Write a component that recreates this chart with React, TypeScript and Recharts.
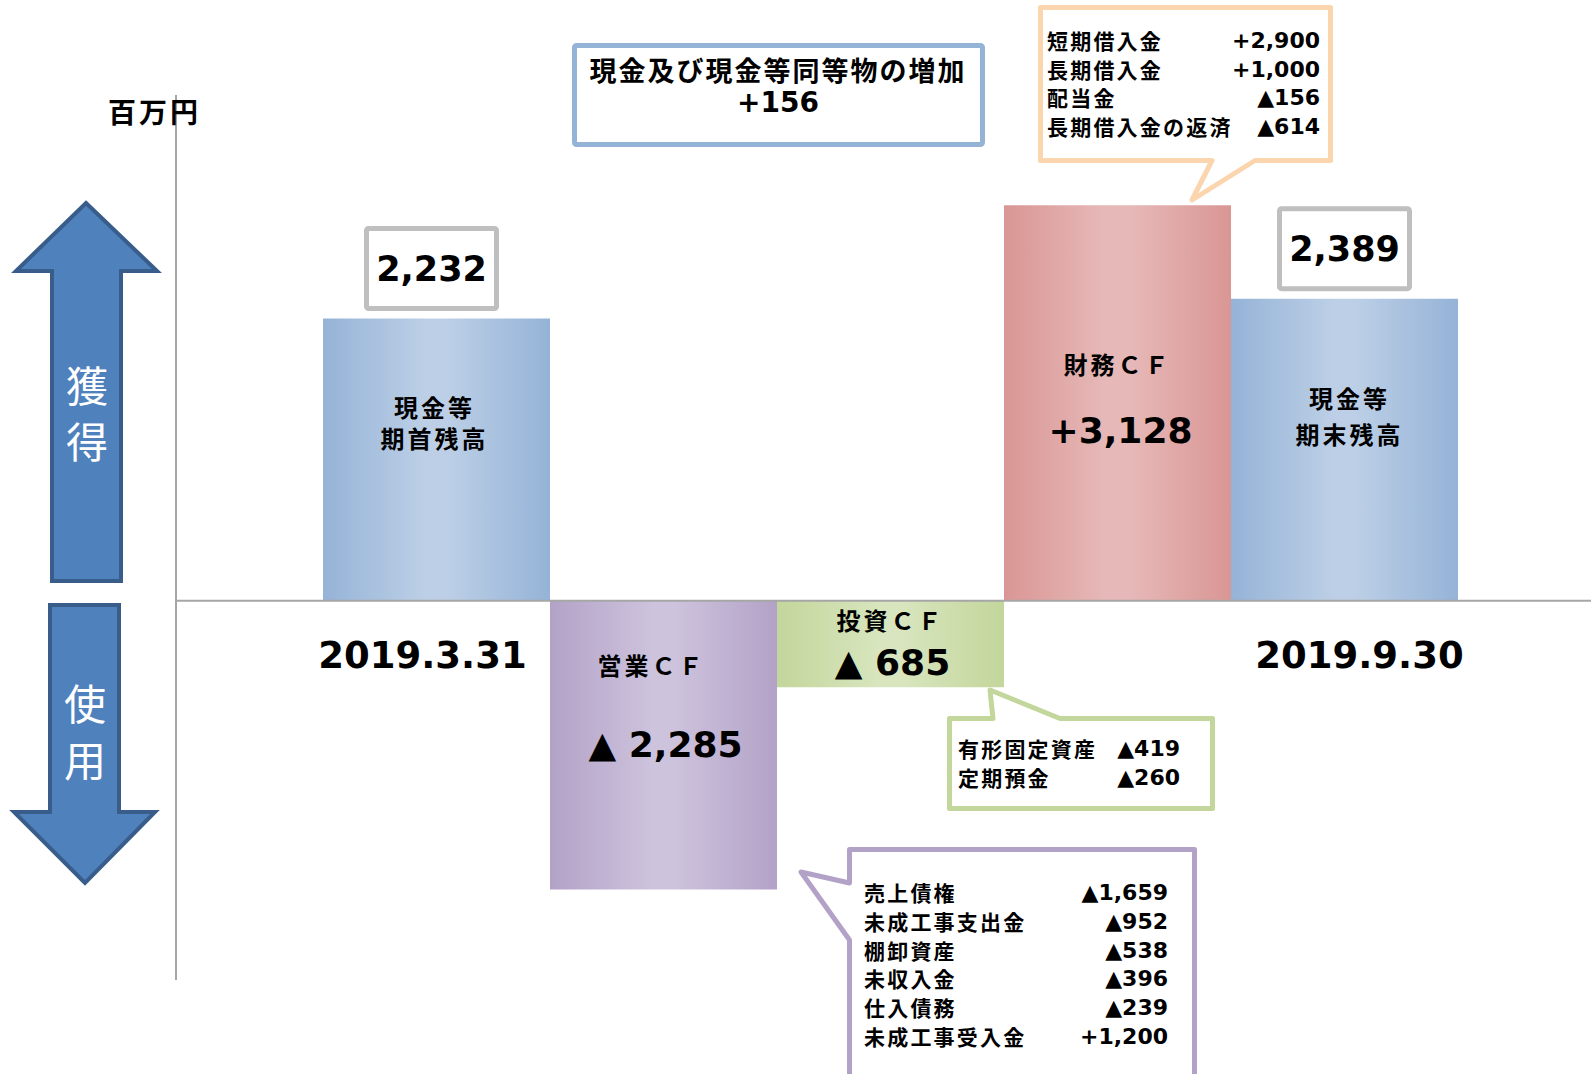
import { BarChart, Bar, XAxis, YAxis, ReferenceLine, Cell, LabelList } from "recharts";

const W = 1591;
const H = 1074;

// bars (百万円)
const categories = ["期首残高", "営業CF", "投資CF", "財務CF", "期末残高"];
const amounts = [2232, -2285, -685, 3128, 2389];
const isBalance = [true, false, false, false, true];
const barTitles = [["現金等", "期首残高"], ["営業ＣＦ"], ["投資ＣＦ"], ["財務ＣＦ"], ["現金等", "期末残高"]];
const dateLabels = ["2019.3.31", "", "", "", "2019.9.30"];
const yDomain = [-3000, 4000];

// summary box
const summaryTitle = "現金及び現金等同等物の増加";
const netIncrease = 156;

// callout breakdowns
const financeItems = ["短期借入金", "長期借入金", "配当金", "長期借入金の返済"];
const financeValues = [2900, 1000, -156, -614];
const investItems = ["有形固定資産", "定期預金"];
const investValues = [-419, -260];
const operatingItems = ["売上債権", "未成工事支出金", "棚卸資産", "未収入金", "仕入債務", "未成工事受入金"];
const operatingValues = [-1659, -952, -538, -396, -239, 1200];

const data = categories.map((name, idx) => ({ name, amount: amounts[idx], idx }));

// dark edge / light centre of each bar's gradient
const gradColors = [
  ["#95b3d7", "#bccfe6"],
  ["#b3a2c7", "#cdc3dd"],
  ["#c3d69b", "#d8e5be"],
  ["#d99694", "#e6b9b8"],
  ["#95b3d7", "#bccfe6"],
];

// label placement relative to each bar (px)
const labelLayout = [
  { dx: -2, titleDy: [88, 119], boxDx: -5, dateDx: -14 },
  { dx: -12, titleDy: [64], valueDx: 2, valueDy: 144 },
  { dx: 0, titleDy: [19], valueDx: 2, valueDy: 62 },
  { dx: 0, titleDy: [158], valueDx: 3, valueDy: 225 },
  { dx: 5, titleDy: [99, 135], boxDx: 0, dateDx: 15 },
];

const numFont = "'DejaVu Sans', 'Noto Sans CJK JP', sans-serif";
const jpFont = "'Noto Sans CJK JP', sans-serif";

const fmt = (n: number) => n.toLocaleString("en-US");
const signed = (n: number) => (n < 0 ? "▲" + fmt(-n) : "+" + fmt(n));

function BarLabel(props: any) {
  const vb = props.viewBox && props.viewBox.width !== undefined ? props.viewBox : props;
  const i = Number(props.value);
  const x = Number(vb.x);
  const y = Number(vb.y);
  const w = Number(vb.width);
  const h = Number(vb.height);
  if (!Number.isFinite(i) || !Number.isFinite(x)) return null;
  const top = Math.min(y, y + h);
  const bottom = Math.max(y, y + h);
  const cx = x + w / 2;
  const lay: any = labelLayout[i];
  const amount = amounts[i];

  const parts: any[] = barTitles[i].map((t, k) => (
    <text key={`t${k}`} x={cx + lay.dx} y={top + lay.titleDy[k]} textAnchor="middle" dominantBaseline="central"
      fontFamily={jpFont} fontWeight={700} fontSize={24} letterSpacing={3} fill="#000">{t}</text>
  ));

  if (isBalance[i]) {
    const bw = 130;
    const bh = 80;
    const bx = cx + lay.boxDx - bw / 2;
    const by = top - 10 - bh;
    parts.push(
      <rect key="box" x={bx} y={by} width={bw} height={bh} rx={2} fill="#fff" stroke="#bfbfbf" strokeWidth={5} />,
      <text key="val" x={bx + bw / 2} y={by + bh / 2} textAnchor="middle" dominantBaseline="central"
        fontFamily={numFont} fontWeight={700} fontSize={35} fill="#000">{fmt(amount)}</text>,
      <text key="date" x={cx + lay.dateDx} y={bottom + 67} textAnchor="middle"
        fontFamily={numFont} fontWeight={700} fontSize={37} fill="#000">{dateLabels[i]}</text>
    );
  } else {
    parts.push(
      <text key="val" x={cx + lay.valueDx} y={top + lay.valueDy} textAnchor="middle" dominantBaseline="central"
        fontFamily={numFont} fontWeight={700} fontSize={36} fill="#000">
        {amount < 0 ? "▲ " + fmt(-amount) : "+" + fmt(amount)}
      </text>
    );
  }
  return <g>{parts}</g>;
}

function Rows({ items, values, left, right, ys }: { items: string[]; values: number[]; left: number; right: number; ys: number[] }) {
  return (
    <g>
      {items.map((t, k) => (
        <g key={k}>
          <text x={left} y={ys[k]} dominantBaseline="central" fontFamily={jpFont} fontWeight={700} fontSize={21} letterSpacing={2.2} fill="#000">{t}</text>
          <text x={right} y={ys[k]} textAnchor="end" dominantBaseline="central" fontFamily={numFont} fontWeight={700} fontSize={22} fill="#000">
            {signed(values[k])}
          </text>
        </g>
      ))}
    </g>
  );
}

function Decorations() {
  const arrowText = { fontFamily: jpFont, fontSize: 42, fill: "#fff", textAnchor: "middle" as const, dominantBaseline: "central" as const };
  return (
    <svg width={W} height={H} style={{ position: "absolute", left: 0, top: 0, pointerEvents: "none" }}>
      <text x={108} y={111} dominantBaseline="central" fontFamily={jpFont} fontWeight={700} fontSize={28} letterSpacing={3} fill="#000">百万円</text>

      {/* 獲得 / 使用 arrows */}
      <polygon points="86,203 157,271 121,271 121,581 52,581 52,271 16,271" fill="#4f81bd" stroke="#385d8a" strokeWidth={4} />
      <text x={87} y={383} {...arrowText}>獲</text>
      <text x={87} y={439} {...arrowText}>得</text>
      <polygon points="50,605 119,605 119,812 155,812 85,883 14,812 50,812" fill="#4f81bd" stroke="#385d8a" strokeWidth={4} />
      <text x={85} y={701} {...arrowText}>使</text>
      <text x={85} y={758} {...arrowText}>用</text>

      {/* summary box */}
      <rect x={574.5} y={45.5} width={408} height={99} rx={2} fill="#fff" stroke="#95b3d7" strokeWidth={5} />
      <text x={778} y={69} textAnchor="middle" dominantBaseline="central" fontFamily={jpFont} fontWeight={700} fontSize={27} letterSpacing={2} fill="#000">{summaryTitle}</text>
      <text x={778} y={102} textAnchor="middle" dominantBaseline="central" fontFamily={numFont} fontWeight={700} fontSize={28} fill="#000">{"+" + netIncrease}</text>

      {/* financing callout */}
      <path d="M1040.5,7.5 H1330.5 V160.5 H1255 L1192,200 L1212,160.5 H1040.5 Z" fill="#fff" stroke="#fad5ae" strokeWidth={5} strokeLinejoin="round" />
      <Rows items={financeItems} values={financeValues} left={1047} right={1320} ys={[40, 69, 97, 126]} />

      {/* investing callout */}
      <path d="M949.5,718.5 H993 L990,690 L1060,718.5 H1212.5 V808.5 H949.5 Z" fill="#fff" stroke="#c3d69b" strokeWidth={5} strokeLinejoin="round" />
      <Rows items={investItems} values={investValues} left={958} right={1180} ys={[748, 777]} />

      {/* operating callout */}
      <path d="M849.5,849.5 H1194.5 V1090 H849.5 V940 L801,872 L849.5,883 Z" fill="#fff" stroke="#b3a2c7" strokeWidth={5} strokeLinejoin="round" />
      <Rows items={operatingItems} values={operatingValues} left={864} right={1168} ys={[892, 921, 950, 978, 1007, 1036]} />
    </svg>
  );
}

export default function App() {
  return (
    <div style={{ position: "absolute", left: 0, top: 0, width: W, height: H, background: "#fff" }}>
      <BarChart width={W} height={H} data={data} margin={{ top: 95, right: 0, bottom: 94, left: 116 }} barCategoryGap={0} barGap={0}>
        <defs>
          {gradColors.map(([dark, light], i) => (
            <linearGradient key={i} id={`barGrad${i}`} x1="0" y1="0" x2="1" y2="0">
              <stop offset="0%" stopColor={dark} />
              <stop offset="45%" stopColor={light} />
              <stop offset="55%" stopColor={light} />
              <stop offset="100%" stopColor={dark} />
            </linearGradient>
          ))}
        </defs>
        <XAxis dataKey="name" hide padding={{ left: 147, right: 133 }} />
        <YAxis width={60} domain={yDomain} tick={false} tickLine={false} axisLine={{ stroke: "#a6a6a6", strokeWidth: 2 }} />
        <Bar dataKey="amount" isAnimationActive={false}>
          {data.map((_, i) => (
            <Cell key={`cell-${i}`} fill={`url(#barGrad${i})`} />
          ))}
          <LabelList dataKey="idx" content={BarLabel} />
        </Bar>
        <ReferenceLine y={0} stroke="#a6a6a6" strokeWidth={2} />
      </BarChart>
      <Decorations />
    </div>
  );
}
